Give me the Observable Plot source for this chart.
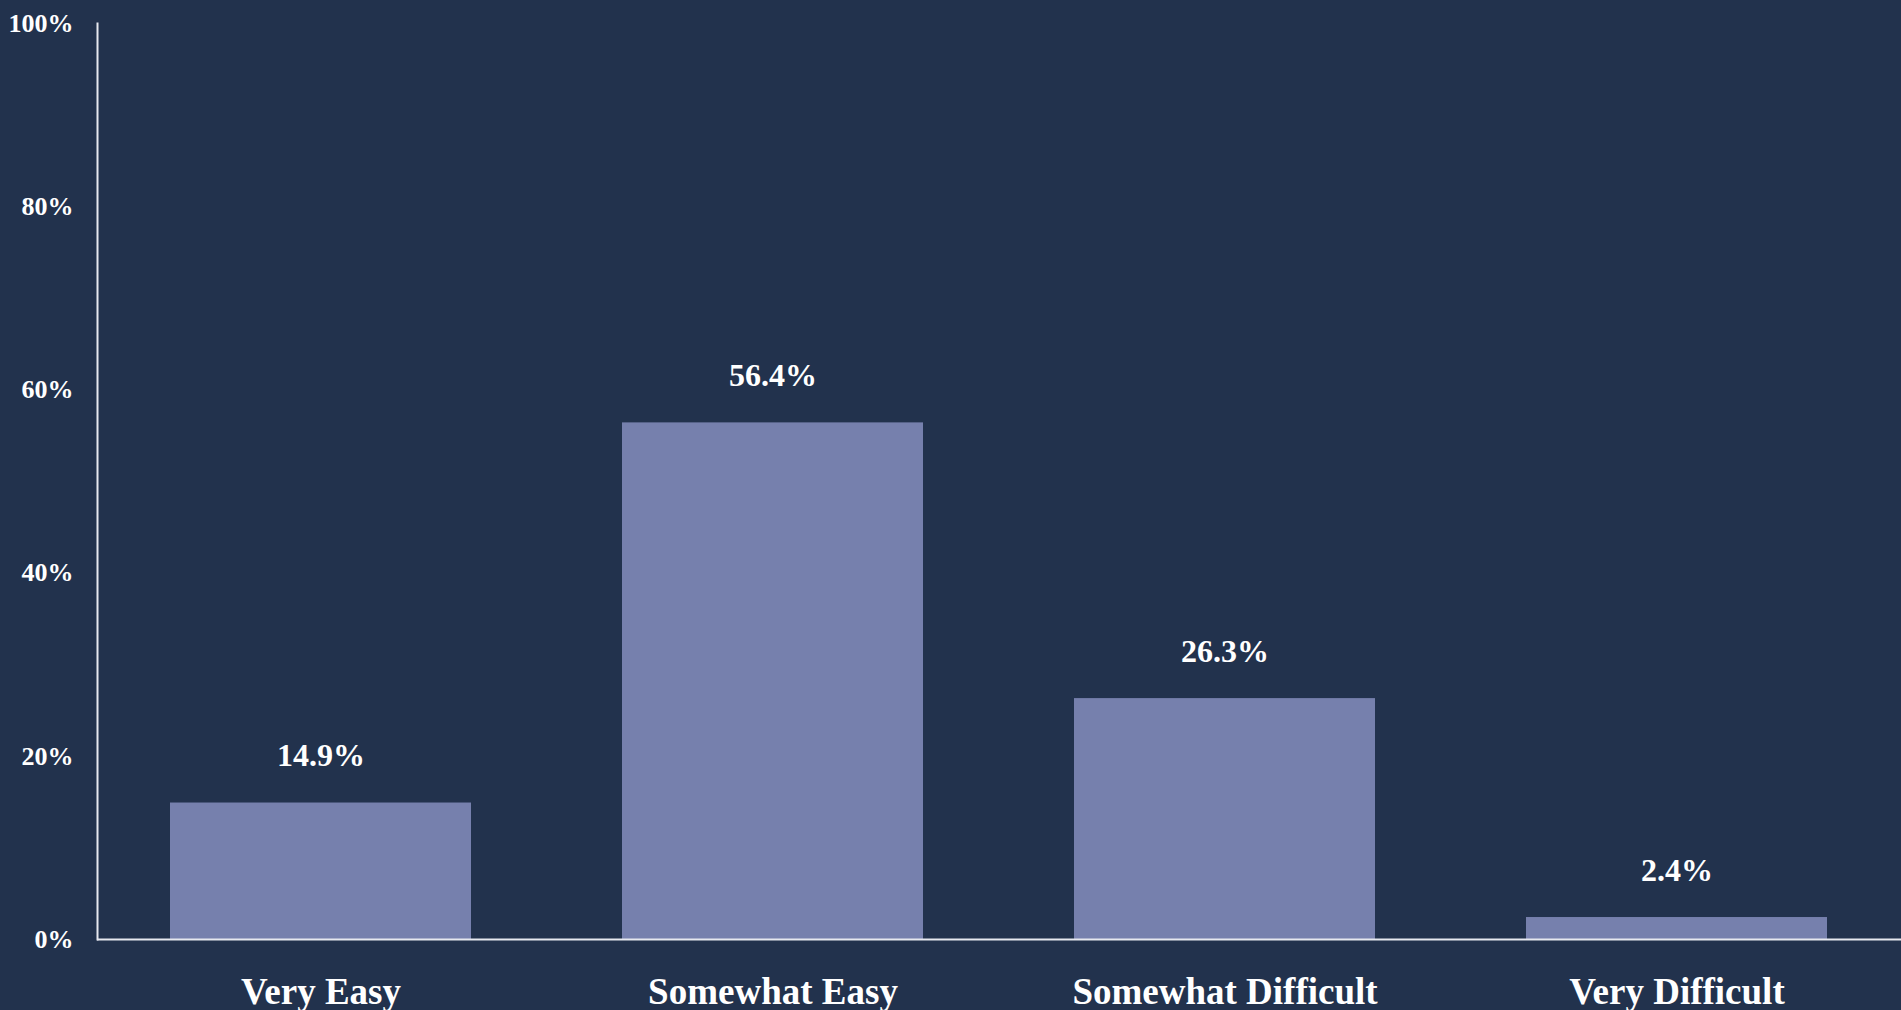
<!DOCTYPE html>
<html>
<head>
<meta charset="utf-8">
<script src="https://cdn.jsdelivr.net/npm/d3@7"></script>
<script src="https://cdn.jsdelivr.net/npm/@observablehq/plot@0.6"></script>
<style>
  html, body { margin: 0; padding: 0; background: #22324d; overflow: hidden; }
</style>
</head>
<body>
<div id="chart"></div>
<script>
const categories = ["Very Easy", "Somewhat Easy", "Somewhat Difficult", "Very Difficult"];
const values = [14.9, 56.4, 26.3, 2.4];
const yTicks = [0, 20, 40, 60, 80, 100];

const data = categories.map((c, i) => ({category: c, value: values[i]}));

const fontFamily = "'Liberation Serif', 'Times New Roman', serif";
const axisColor = "#e6e8ef";

const chart = Plot.plot({
  width: 1901,
  height: 1010,
  marginTop: 23,
  marginRight: 0,
  marginBottom: 71,
  marginLeft: 97,
  style: {background: "#22324d", color: "white", fontFamily},
  x: {domain: categories, paddingInner: 0.334, paddingOuter: 0.162, label: null},
  y: {domain: [0, 100], label: null},
  marks: [
    Plot.barY(data, {x: "category", y: "value", fill: "#7680ad"}),
    Plot.text(data, {
      x: "category", y: "value", text: d => d.value.toFixed(1) + "%",
      lineAnchor: "bottom", dy: -37, fill: "white",
      fontSize: 32, fontWeight: "bold", fontFamily
    }),
    Plot.axisY(yTicks, {
      tickSize: 0, tickPadding: 24, tickFormat: d => d + "%",
      fontSize: 26, fontWeight: "bold", fill: "white", label: null
    }),
    Plot.axisX({
      tickSize: 0, tickPadding: 38, fontSize: 37, fontWeight: "bold",
      fill: "white", label: null
    }),
    Plot.frame({anchor: "left", stroke: axisColor, strokeWidth: 2}),
    Plot.ruleY([0], {stroke: axisColor, strokeWidth: 2})
  ]
});

document.getElementById("chart").appendChild(chart);
</script>
</body>
</html>
